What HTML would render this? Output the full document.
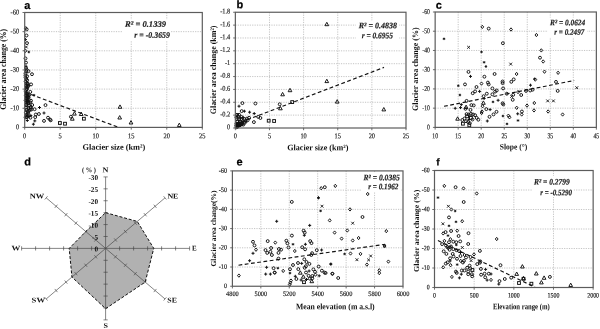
<!DOCTYPE html>
<html lang="en"><head><meta charset="utf-8"><title>Glacier area change figure</title>
<style>html,body{margin:0;padding:0;background:#fff}svg{display:block;will-change:transform}text{text-rendering:geometricPrecision}</style></head><body>
<svg width="600" height="329" viewBox="0 0 600 329">
<rect width="600" height="329" fill="#fff"/>
<g stroke="#b6b6b6" stroke-width="0.8" stroke-dasharray="1.2 1.2" fill="none">
<path d="M60.22 12.5V127.4"/>
<path d="M95.74 12.5V127.4"/>
<path d="M131.26 12.5V127.4"/>
<path d="M166.78 12.5V127.4"/>
<path d="M24.7 31.65H202.3"/>
<path d="M24.7 50.8H202.3"/>
<path d="M24.7 69.95H202.3"/>
<path d="M24.7 89.1H202.3"/>
<path d="M24.7 108.25H202.3"/>
</g>
<rect x="122" y="19.5" width="49" height="21.5" fill="#fff"/>
<g font-family='"Liberation Serif", serif' font-weight="bold" font-style="italic" font-size="8.4" fill="#1c1c1c" stroke="#1c1c1c" stroke-width="0.18">
<text x="125" y="26.8" textLength="41" lengthAdjust="spacingAndGlyphs" transform="rotate(0.04 125 26.8)">R² = 0.1339</text>
<text x="134.3" y="37.7" textLength="35.6" lengthAdjust="spacingAndGlyphs" transform="rotate(0.04 134.3 37.7)">r = -0.3659</text>
</g>
<path d="M25.2 92.3L119.2 127.6" stroke="#111" stroke-width="1.15" stroke-dasharray="3.8 2.5" fill="none"/>
<g fill="none" stroke="#111" stroke-width="0.95">
<path d="M25.8 26.52L27.2 28.2L25.8 29.88L24.4 28.2Z"/>
<circle cx="26.7" cy="29.4" r="1.45"/>
<circle cx="26.5" cy="35.5" r="1.45"/>
<path d="M24 39.6H27M25.5 38.1V41.1" stroke-width="1"/>
<circle cx="27" cy="43.1" r="1.45"/>
<path d="M24.9 45.6L27.7 48.4M27.7 45.6L24.9 48.4" stroke-width="0.9"/>
<path d="M25.5 49.12L26.9 50.8L25.5 52.48L24.1 50.8Z"/>
<path d="M27.5 52H30.1M28.8 50.7V53.3M27.99 51.19L29.61 52.81M29.61 51.19L27.99 52.81" stroke-width="0.75"/>
<circle cx="25.5" cy="58.4" r="1.45"/>
<circle cx="26" cy="62.6" r="1.45"/>
<path d="M24.5 66.3H27.5M26 64.8V67.8" stroke-width="1"/>
<circle cx="28.5" cy="71.2" r="1.45"/>
<circle cx="32" cy="74.2" r="1.45"/>
<circle cx="31.1" cy="84.4" r="1.45"/>
<circle cx="30.3" cy="91.9" r="1.45"/>
<path d="M32.7 95.2H35.3M34 93.9V96.5M33.19 94.39L34.81 96.01M34.81 94.39L33.19 96.01" stroke-width="0.75"/>
<circle cx="31" cy="100.7" r="1.45"/>
<circle cx="45.5" cy="105.1" r="1.45"/>
<circle cx="32.2" cy="105" r="1.45"/>
<circle cx="34.6" cy="109.2" r="1.45"/>
<path d="M38 107.5H41M39.5 106V109" stroke-width="1"/>
<circle cx="38.9" cy="114" r="1.45"/>
<circle cx="35.8" cy="114.5" r="1.45"/>
<path d="M42.5 113H45.5M44 111.5V114.5" stroke-width="1"/>
<circle cx="48" cy="117.7" r="1.45"/>
<circle cx="50" cy="119.5" r="1.45"/>
<circle cx="50.7" cy="120.3" r="1.45"/>
<circle cx="44" cy="120.9" r="1.45"/>
<circle cx="35.2" cy="117.1" r="1.45"/>
<circle cx="25.6" cy="117.3" r="1.45"/>
<path d="M25.8 120.5H28.8M27.3 119V122" stroke-width="1"/>
<path d="M33.3 120.9H36.3M34.8 119.4V122.4" stroke-width="1"/>
<path d="M31.9 124.2H34.9M33.4 122.7V125.7" stroke-width="1"/>
<rect x="58.5" y="121.6" width="2.8" height="2.8"/>
<rect x="63.6" y="122.3" width="2.8" height="2.8"/>
<circle cx="70.9" cy="116.7" r="1.45"/>
<path d="M74.4 111.7L76.25 115.1L72.55 115.1Z"/>
<path d="M72.3 116.8L74.15 120.2L70.45 120.2Z"/>
<path d="M81.2 112.1L83.05 115.5L79.35 115.5Z"/>
<rect x="82.5" y="117.3" width="2.8" height="2.8"/>
<path d="M120 104.9L121.85 108.3L118.15 108.3Z"/>
<path d="M119.7 115.6L121.55 119L117.85 119Z"/>
<path d="M131 120.6L132.85 124L129.15 124Z"/>
<path d="M179.3 123.1L181.15 126.5L177.45 126.5Z"/>
<circle cx="25.98" cy="68" r="1.45"/>
<circle cx="26.57" cy="69.74" r="1.45"/>
<circle cx="26.36" cy="71.4" r="1.45"/>
<circle cx="25.5" cy="73.33" r="1.45"/>
<circle cx="25.47" cy="75.39" r="1.45"/>
<circle cx="25.53" cy="77.38" r="1.45"/>
<circle cx="26.16" cy="79.06" r="1.45"/>
<circle cx="25.62" cy="81.4" r="1.45"/>
<circle cx="26.53" cy="83.2" r="1.45"/>
<circle cx="26.44" cy="85.66" r="1.45"/>
<circle cx="27.16" cy="87.61" r="1.45"/>
<circle cx="26.95" cy="89.26" r="1.45"/>
<circle cx="25.66" cy="91.12" r="1.45"/>
<circle cx="25.96" cy="92.82" r="1.45"/>
<circle cx="25.73" cy="95.16" r="1.45"/>
<circle cx="26.46" cy="96" r="1.45"/>
<circle cx="26.32" cy="98.37" r="1.45"/>
<circle cx="25.59" cy="100.44" r="1.45"/>
<circle cx="26.52" cy="102.64" r="1.45"/>
<circle cx="25.97" cy="105.07" r="1.45"/>
<circle cx="26.18" cy="107.65" r="1.45"/>
<circle cx="26.69" cy="109.95" r="1.45"/>
<circle cx="25.87" cy="112.65" r="1.45"/>
<circle cx="26.29" cy="115.23" r="1.45"/>
<circle cx="27.64" cy="111.51" r="1.45"/>
<circle cx="27.64" cy="96.83" r="1.45"/>
<circle cx="27.97" cy="97.65" r="1.45"/>
<circle cx="26.5" cy="117.09" r="1.45"/>
<circle cx="30.6" cy="107.75" r="1.45"/>
<circle cx="27.6" cy="102.16" r="1.45"/>
<circle cx="28.4" cy="107.92" r="1.45"/>
<path d="M27.5 116.67H30.5M29 115.17V118.17" stroke-width="1"/>
<circle cx="28.75" cy="95.56" r="1.45"/>
<circle cx="31.43" cy="109.53" r="1.45"/>
<path d="M26.2 100.83H29.2M27.7 99.33V102.33" stroke-width="1"/>
<circle cx="30.32" cy="102.33" r="1.45"/>
<circle cx="26.48" cy="98.03" r="1.45"/>
<path d="M25.71 99.24H28.71M27.21 97.74V100.74" stroke-width="1"/>
<circle cx="27.68" cy="99.94" r="1.45"/>
<circle cx="27.71" cy="95.93" r="1.45"/>
<circle cx="26.6" cy="100.67" r="1.45"/>
<circle cx="27.7" cy="114.74" r="1.45"/>
<circle cx="30.41" cy="117.68" r="1.45"/>
<circle cx="26.96" cy="116.99" r="1.45"/>
<circle cx="28.65" cy="97.63" r="1.45"/>
<circle cx="28.94" cy="105.64" r="1.45"/>
<circle cx="26.64" cy="100.77" r="1.45"/>
<circle cx="28.64" cy="102.86" r="1.45"/>
<circle cx="28.88" cy="110.57" r="1.45"/>
<circle cx="30.06" cy="109.72" r="1.45"/>
<path d="M29.34 115.59H32.34M30.84 114.09V117.09" stroke-width="1"/>
<circle cx="28.32" cy="113.15" r="1.45"/>
<circle cx="28.28" cy="103.46" r="1.45"/>
<circle cx="26.25" cy="95.49" r="1.45"/>
<circle cx="26.53" cy="104.58" r="1.45"/>
<circle cx="26" cy="95.26" r="1.45"/>
<circle cx="30.88" cy="106.88" r="1.45"/>
<circle cx="29.19" cy="94.61" r="1.45"/>
<circle cx="26.9" cy="86.69" r="1.45"/>
<circle cx="28.29" cy="86.05" r="1.45"/>
<circle cx="27.14" cy="76.31" r="1.45"/>
<circle cx="27.17" cy="93.56" r="1.45"/>
<circle cx="27.15" cy="80.24" r="1.45"/>
<circle cx="26.35" cy="88.99" r="1.45"/>
<circle cx="27.78" cy="83.57" r="1.45"/>
<circle cx="27.66" cy="84.33" r="1.45"/>
</g>
<g stroke="#5c5c5c" stroke-width="1.2" fill="none">
<rect x="24.7" y="12.5" width="177.6" height="114.9"/>
<path d="M24.7 127.4v2.2M60.22 127.4v2.2M95.74 127.4v2.2M131.26 127.4v2.2M166.78 127.4v2.2M202.3 127.4v2.2M24.7 12.5h-2.2M24.7 31.65h-2.2M24.7 50.8h-2.2M24.7 69.95h-2.2M24.7 89.1h-2.2M24.7 108.25h-2.2M24.7 127.4h-2.2" stroke-width="0.9"/>
</g>
<g font-family='"Liberation Serif", serif' font-size="7.3" fill="#222" stroke="#222" stroke-width="0.18">
<text x="23.09" y="138.2" textLength="3.21" lengthAdjust="spacingAndGlyphs" transform="rotate(0.04 23.09 138.2)">0</text>
<text x="58.61" y="138.2" textLength="3.21" lengthAdjust="spacingAndGlyphs" transform="rotate(0.04 58.61 138.2)">5</text>
<text x="92.53" y="138.2" textLength="6.42" lengthAdjust="spacingAndGlyphs" transform="rotate(0.04 92.53 138.2)">10</text>
<text x="128.05" y="138.2" textLength="6.42" lengthAdjust="spacingAndGlyphs" transform="rotate(0.04 128.05 138.2)">15</text>
<text x="163.57" y="138.2" textLength="6.42" lengthAdjust="spacingAndGlyphs" transform="rotate(0.04 163.57 138.2)">20</text>
<text x="199.09" y="138.2" textLength="6.42" lengthAdjust="spacingAndGlyphs" transform="rotate(0.04 199.09 138.2)">25</text>
<text x="10.54" y="14.47" textLength="8.56" lengthAdjust="spacingAndGlyphs" transform="rotate(0.04 10.54 14.47)">-60</text>
<text x="10.54" y="33.62" textLength="8.56" lengthAdjust="spacingAndGlyphs" transform="rotate(0.04 10.54 33.62)">-50</text>
<text x="10.54" y="52.77" textLength="8.56" lengthAdjust="spacingAndGlyphs" transform="rotate(0.04 10.54 52.77)">-40</text>
<text x="10.54" y="71.92" textLength="8.56" lengthAdjust="spacingAndGlyphs" transform="rotate(0.04 10.54 71.92)">-30</text>
<text x="10.54" y="91.07" textLength="8.56" lengthAdjust="spacingAndGlyphs" transform="rotate(0.04 10.54 91.07)">-20</text>
<text x="10.54" y="110.22" textLength="8.56" lengthAdjust="spacingAndGlyphs" transform="rotate(0.04 10.54 110.22)">-10</text>
<text x="15.89" y="129.37" textLength="3.21" lengthAdjust="spacingAndGlyphs" transform="rotate(0.04 15.89 129.37)">0</text>
</g>
<text x="82.5" y="149.7" font-family='"Liberation Serif", serif' font-weight="bold" font-size="8.3" textLength="62.8" lengthAdjust="spacingAndGlyphs" fill="#111" transform="rotate(0.04 82.5 149.7)">Glacier size (km²)</text>
<text transform="translate(6.1 109.8) rotate(-90)" font-family='"Liberation Serif", serif' font-weight="bold" font-size="8.8" textLength="81" lengthAdjust="spacingAndGlyphs" fill="#111">Glacier area change (%)</text>
<text x="24.3" y="8.9" font-family='"Liberation Sans", sans-serif' font-weight="bold" font-size="11" fill="#000" stroke="#000" stroke-width="0.2" transform="rotate(0.04 24.3 8.9)">a</text>
<g stroke="#b6b6b6" stroke-width="0.8" stroke-dasharray="1.2 1.2" fill="none">
<path d="M269.48 12.25V128"/>
<path d="M303.61 12.25V128"/>
<path d="M337.74 12.25V128"/>
<path d="M371.87 12.25V128"/>
<path d="M235.35 25.11H406"/>
<path d="M235.35 37.97H406"/>
<path d="M235.35 50.83H406"/>
<path d="M235.35 63.69H406"/>
<path d="M235.35 76.56H406"/>
<path d="M235.35 89.42H406"/>
<path d="M235.35 102.28H406"/>
<path d="M235.35 115.14H406"/>
</g>
<rect x="356" y="20.5" width="43" height="20.5" fill="#fff"/>
<g font-family='"Liberation Serif", serif' font-weight="bold" font-style="italic" font-size="8.4" fill="#1c1c1c" stroke="#1c1c1c" stroke-width="0.18">
<text x="358.7" y="28.2" textLength="38.3" lengthAdjust="spacingAndGlyphs" transform="rotate(0.04 358.7 28.2)">R² = 0.4838</text>
<text x="361.7" y="38.2" textLength="31.3" lengthAdjust="spacingAndGlyphs" transform="rotate(0.04 361.7 38.2)">r = 0.6955</text>
</g>
<path d="M235.4 124.3L384 67.4" stroke="#111" stroke-width="1.15" stroke-dasharray="3.8 2.5" fill="none"/>
<g fill="none" stroke="#111" stroke-width="0.95">
<path d="M326.8 22.3L328.65 25.7L324.95 25.7Z"/>
<path d="M326.8 79.2L328.65 82.6L324.95 82.6Z"/>
<path d="M337.2 99.7L339.05 103.1L335.35 103.1Z"/>
<path d="M383.8 107.5L385.65 110.9L381.95 110.9Z"/>
<path d="M290 88.3L291.85 91.7L288.15 91.7Z"/>
<path d="M282.6 92.4L284.45 95.8L280.75 95.8Z"/>
<path d="M280.4 106.4L282.25 109.8L278.55 109.8Z"/>
<circle cx="242.4" cy="103.1" r="1.45"/>
<circle cx="255.4" cy="103.5" r="1.45"/>
<circle cx="279.7" cy="104.3" r="1.45"/>
<circle cx="241.7" cy="111.1" r="1.45"/>
<circle cx="237" cy="115" r="1.45"/>
<circle cx="258.2" cy="116.9" r="1.45"/>
<circle cx="260.4" cy="118" r="1.45"/>
<circle cx="253.9" cy="122.1" r="1.45"/>
<path d="M237.5 106.2H240.5M239 104.7V107.7" stroke-width="1"/>
<path d="M242.9 111.2H245.9M244.4 109.7V112.7" stroke-width="1"/>
<path d="M248.1 112.2H251.1M249.6 110.7V113.7" stroke-width="1"/>
<path d="M252.7 113.5H255.7M254.2 112V115" stroke-width="1"/>
<rect x="267.3" y="119.3" width="2.8" height="2.8"/>
<rect x="272.7" y="119.6" width="2.8" height="2.8"/>
<rect x="290.8" y="100.7" width="2.8" height="2.8"/>
<circle cx="236.8" cy="115" r="1.45"/>
<circle cx="236.4" cy="117.3" r="1.45"/>
<circle cx="239.1" cy="114.8" r="1.45"/>
<circle cx="241.4" cy="116.9" r="1.45"/>
<circle cx="238.2" cy="116.4" r="1.45"/>
<circle cx="236.8" cy="119.1" r="1.45"/>
<circle cx="239.1" cy="119.3" r="1.45"/>
<circle cx="241.4" cy="119" r="1.45"/>
<circle cx="244.6" cy="119.2" r="1.45"/>
<circle cx="246.9" cy="118.6" r="1.45"/>
<circle cx="249.1" cy="117.8" r="1.45"/>
<circle cx="237.3" cy="121.4" r="1.45"/>
<circle cx="240" cy="121.6" r="1.45"/>
<circle cx="242.8" cy="121.2" r="1.45"/>
<circle cx="245.5" cy="120.8" r="1.45"/>
<circle cx="247.6" cy="120.3" r="1.45"/>
<circle cx="236.4" cy="123.7" r="1.45"/>
<circle cx="239.1" cy="123.6" r="1.45"/>
<circle cx="241.8" cy="123.3" r="1.45"/>
<circle cx="244.6" cy="122.8" r="1.45"/>
<circle cx="243.4" cy="124.6" r="1.45"/>
<path d="M241.7 117.4H244.7M243.2 115.9V118.9" stroke-width="1"/>
<path d="M244.5 121.8H247.5M246 120.3V123.3" stroke-width="1"/>
<path d="M239.1 118H242.1M240.6 116.5V119.5" stroke-width="1"/>
<path d="M236.9 122.6H239.9M238.4 121.1V124.1" stroke-width="1"/>
<circle cx="238.96" cy="124.29" r="1.45"/>
<circle cx="238.97" cy="124.85" r="1.45"/>
<circle cx="237.43" cy="125.68" r="1.45"/>
<circle cx="240.27" cy="124.32" r="1.45"/>
<circle cx="237.27" cy="125.86" r="1.45"/>
<circle cx="237.21" cy="125.53" r="1.45"/>
<circle cx="240.14" cy="125.02" r="1.45"/>
<circle cx="236.52" cy="127.24" r="1.45"/>
<circle cx="237.14" cy="126.74" r="1.45"/>
<circle cx="238.88" cy="124.4" r="1.45"/>
<circle cx="239.42" cy="124.84" r="1.45"/>
<circle cx="239.99" cy="124.78" r="1.45"/>
<circle cx="242.48" cy="122.7" r="1.45"/>
<circle cx="240.07" cy="124.72" r="1.45"/>
<circle cx="237.47" cy="125.1" r="1.45"/>
<circle cx="239.02" cy="125.42" r="1.45"/>
<circle cx="242.09" cy="124.33" r="1.45"/>
<circle cx="238.05" cy="125.88" r="1.45"/>
<circle cx="241.67" cy="124.13" r="1.45"/>
<circle cx="240.2" cy="124.9" r="1.45"/>
<circle cx="236.68" cy="125.39" r="1.45"/>
<circle cx="240.11" cy="124.53" r="1.45"/>
<circle cx="236.43" cy="125.64" r="1.45"/>
<circle cx="237.45" cy="126.03" r="1.45"/>
<circle cx="237.73" cy="126.55" r="1.45"/>
<circle cx="239.48" cy="124.58" r="1.45"/>
<circle cx="237.29" cy="124.97" r="1.45"/>
<circle cx="240.58" cy="123.24" r="1.45"/>
<circle cx="237.43" cy="125.19" r="1.45"/>
<circle cx="239.45" cy="123.57" r="1.45"/>
</g>
<g stroke="#5c5c5c" stroke-width="1.2" fill="none">
<rect x="235.35" y="12.25" width="170.65" height="115.75"/>
<path d="M235.35 128v2.2M269.48 128v2.2M303.61 128v2.2M337.74 128v2.2M371.87 128v2.2M406 128v2.2M235.35 12.25h-2.2M235.35 25.11h-2.2M235.35 37.97h-2.2M235.35 50.83h-2.2M235.35 63.69h-2.2M235.35 76.56h-2.2M235.35 89.42h-2.2M235.35 102.28h-2.2M235.35 115.14h-2.2M235.35 128h-2.2" stroke-width="0.9"/>
</g>
<g font-family='"Liberation Serif", serif' font-size="7.3" fill="#222" stroke="#222" stroke-width="0.18">
<text x="233.76" y="138.3" textLength="3.18" lengthAdjust="spacingAndGlyphs" transform="rotate(0.04 233.76 138.3)">0</text>
<text x="267.89" y="138.3" textLength="3.18" lengthAdjust="spacingAndGlyphs" transform="rotate(0.04 267.89 138.3)">5</text>
<text x="300.43" y="138.3" textLength="6.35" lengthAdjust="spacingAndGlyphs" transform="rotate(0.04 300.43 138.3)">10</text>
<text x="334.56" y="138.3" textLength="6.35" lengthAdjust="spacingAndGlyphs" transform="rotate(0.04 334.56 138.3)">15</text>
<text x="368.69" y="138.3" textLength="6.35" lengthAdjust="spacingAndGlyphs" transform="rotate(0.04 368.69 138.3)">20</text>
<text x="402.82" y="138.3" textLength="6.35" lengthAdjust="spacingAndGlyphs" transform="rotate(0.04 402.82 138.3)">25</text>
<text x="220.25" y="13.52" textLength="10.05" lengthAdjust="spacingAndGlyphs" transform="rotate(0.04 220.25 13.52)">-1.8</text>
<text x="220.25" y="26.38" textLength="10.05" lengthAdjust="spacingAndGlyphs" transform="rotate(0.04 220.25 26.38)">-1.6</text>
<text x="220.25" y="39.24" textLength="10.05" lengthAdjust="spacingAndGlyphs" transform="rotate(0.04 220.25 39.24)">-1.4</text>
<text x="220.25" y="52.1" textLength="10.05" lengthAdjust="spacingAndGlyphs" transform="rotate(0.04 220.25 52.1)">-1.2</text>
<text x="225.01" y="64.96" textLength="5.29" lengthAdjust="spacingAndGlyphs" transform="rotate(0.04 225.01 64.96)">-1</text>
<text x="220.25" y="77.82" textLength="10.05" lengthAdjust="spacingAndGlyphs" transform="rotate(0.04 220.25 77.82)">-0.8</text>
<text x="220.25" y="90.68" textLength="10.05" lengthAdjust="spacingAndGlyphs" transform="rotate(0.04 220.25 90.68)">-0.6</text>
<text x="220.25" y="103.55" textLength="10.05" lengthAdjust="spacingAndGlyphs" transform="rotate(0.04 220.25 103.55)">-0.4</text>
<text x="220.25" y="116.41" textLength="10.05" lengthAdjust="spacingAndGlyphs" transform="rotate(0.04 220.25 116.41)">-0.2</text>
<text x="227.12" y="129.27" textLength="3.18" lengthAdjust="spacingAndGlyphs" transform="rotate(0.04 227.12 129.27)">0</text>
</g>
<text x="287.2" y="150.2" font-family='"Liberation Serif", serif' font-weight="bold" font-size="8.3" textLength="61.2" lengthAdjust="spacingAndGlyphs" fill="#111" transform="rotate(0.04 287.2 150.2)">Glacier size (km²)</text>
<text transform="translate(215.5 114.3) rotate(-90)" font-family='"Liberation Serif", serif' font-weight="bold" font-size="8.3" textLength="88.8" lengthAdjust="spacingAndGlyphs" fill="#111">Glacier area change (km²)</text>
<text x="236.4" y="8.3" font-family='"Liberation Sans", sans-serif' font-weight="bold" font-size="11" fill="#000" stroke="#000" stroke-width="0.2" transform="rotate(0.04 236.4 8.3)">b</text>
<g stroke="#b6b6b6" stroke-width="0.8" stroke-dasharray="1.2 1.2" fill="none">
<path d="M458.18 12V127.4"/>
<path d="M481.21 12V127.4"/>
<path d="M504.24 12V127.4"/>
<path d="M527.26 12V127.4"/>
<path d="M550.29 12V127.4"/>
<path d="M573.32 12V127.4"/>
<path d="M435.15 31.23H596.35"/>
<path d="M435.15 50.47H596.35"/>
<path d="M435.15 69.7H596.35"/>
<path d="M435.15 88.93H596.35"/>
<path d="M435.15 108.17H596.35"/>
</g>
<rect x="548" y="17.5" width="39" height="20" fill="#fff"/>
<g font-family='"Liberation Serif", serif' font-weight="bold" font-style="italic" font-size="8.4" fill="#1c1c1c" stroke="#1c1c1c" stroke-width="0.18">
<text x="550" y="25.2" textLength="35.2" lengthAdjust="spacingAndGlyphs" transform="rotate(0.04 550 25.2)">R² = 0.0624</text>
<text x="554.3" y="34.7" textLength="30" lengthAdjust="spacingAndGlyphs" transform="rotate(0.04 554.3 34.7)">r = 0.2497</text>
</g>
<path d="M444 106.3L574.2 80.5" stroke="#111" stroke-width="1.15" stroke-dasharray="3.8 2.5" fill="none"/>
<g fill="none" stroke="#111" stroke-width="0.95">
<path d="M442.7 38.8H445.3M444 37.5V40.1M443.19 37.99L444.81 39.61M444.81 37.99L443.19 39.61" stroke-width="0.75"/>
<path d="M467.2 45.9L470 48.7M470 45.9L467.2 48.7" stroke-width="0.9"/>
<path d="M482.3 25.22L483.7 26.9L482.3 28.58L480.9 26.9Z"/>
<circle cx="488.7" cy="28.6" r="1.45"/>
<path d="M511 27.82L512.4 29.5L511 31.18L509.6 29.5Z"/>
<circle cx="502.9" cy="43.2" r="1.45"/>
<path d="M480.2 51.9H482.8M481.5 50.6V53.2M480.69 51.09L482.31 52.71M482.31 51.09L480.69 52.71" stroke-width="0.75"/>
<path d="M482.8 62.3H485.4M484.1 61V63.6M483.29 61.49L484.91 63.11M484.91 61.49L483.29 63.11" stroke-width="0.75"/>
<path d="M484.6 66.5H487.2M485.9 65.2V67.8M485.09 65.69L486.71 67.31M486.71 65.69L485.09 67.31" stroke-width="0.75"/>
<path d="M509.3 62.7L512.1 65.5M512.1 62.7L509.3 65.5" stroke-width="0.9"/>
<path d="M536.4 33.32L537.8 35L536.4 36.68L535 35Z"/>
<path d="M541.3 48.72L542.7 50.4L541.3 52.08L539.9 50.4Z"/>
<circle cx="540" cy="57.7" r="1.45"/>
<path d="M543.2 59.82L544.6 61.5L543.2 63.18L541.8 61.5Z"/>
<circle cx="468.5" cy="71.9" r="1.45"/>
<path d="M469 76.4H472M470.5 74.9V77.9" stroke-width="1"/>
<circle cx="484.4" cy="76.7" r="1.45"/>
<circle cx="465" cy="84.4" r="1.45"/>
<path d="M457 85.7H459.6M458.3 84.4V87M457.49 84.89L459.11 86.51M459.11 84.89L457.49 86.51" stroke-width="0.75"/>
<path d="M481.5 81.92L482.9 83.6L481.5 85.28L480.1 83.6Z"/>
<circle cx="487.9" cy="82.6" r="1.45"/>
<circle cx="488.7" cy="84.4" r="1.45"/>
<circle cx="476.5" cy="87" r="1.45"/>
<circle cx="475.1" cy="91.4" r="1.45"/>
<circle cx="472.7" cy="93.2" r="1.45"/>
<path d="M478.1 91.4H481.1M479.6 89.9V92.9" stroke-width="1"/>
<path d="M458.6 95H461.2M459.9 93.7V96.3M459.09 94.19L460.71 95.81M460.71 94.19L459.09 95.81" stroke-width="0.75"/>
<circle cx="486.8" cy="93.7" r="1.45"/>
<circle cx="483.6" cy="96.2" r="1.45"/>
<path d="M482.6 98.5H485.6M484.1 97V100" stroke-width="1"/>
<circle cx="466.6" cy="100.9" r="1.45"/>
<path d="M459.8 104.6H462.8M461.3 103.1V106.1" stroke-width="1"/>
<circle cx="471.4" cy="105.1" r="1.45"/>
<circle cx="473.7" cy="105.4" r="1.45"/>
<path d="M453.7 108.3H456.7M455.2 106.8V109.8" stroke-width="1"/>
<path d="M459 107.6H462M460.5 106.1V109.1" stroke-width="1"/>
<path d="M466.1 105.1L467.95 108.5L464.25 108.5Z"/>
<circle cx="465.5" cy="108.8" r="1.45"/>
<circle cx="470.5" cy="109.9" r="1.45"/>
<path d="M483.4 100.9L485.25 104.3L481.55 104.3Z"/>
<path d="M482.6 104.52L484 106.2L482.6 107.88L481.2 106.2Z"/>
<circle cx="486.3" cy="109.1" r="1.45"/>
<path d="M482 109.82L483.4 111.5L482 113.18L480.6 111.5Z"/>
<path d="M481.6 111.32L483 113L481.6 114.68L480.2 113Z"/>
<circle cx="466.6" cy="114.1" r="1.45"/>
<circle cx="468.7" cy="114.5" r="1.45"/>
<circle cx="470.9" cy="113.9" r="1.45"/>
<circle cx="473" cy="114.5" r="1.45"/>
<circle cx="475.1" cy="115.2" r="1.45"/>
<rect x="465.7" y="114.9" width="2.8" height="2.8"/>
<rect x="469.5" y="116.5" width="2.8" height="2.8"/>
<circle cx="476.7" cy="117.9" r="1.45"/>
<circle cx="478.3" cy="119.7" r="1.45"/>
<path d="M457.6 116.8L459.45 120.2L455.75 120.2Z"/>
<circle cx="462.3" cy="120" r="1.45"/>
<rect x="461.5" y="122.3" width="2.8" height="2.8"/>
<circle cx="468.2" cy="122.1" r="1.45"/>
<circle cx="469.8" cy="123.2" r="1.45"/>
<rect x="467.9" y="123.9" width="2.8" height="2.8"/>
<circle cx="489.5" cy="116.8" r="1.45"/>
<path d="M485.8 121H488.8M487.3 119.5V122.5" stroke-width="1"/>
<circle cx="464.5" cy="118.5" r="1.45"/>
<circle cx="472.5" cy="119.5" r="1.45"/>
<path d="M467.5 119.5H470.5M469 118V121" stroke-width="1"/>
<circle cx="466" cy="121.2" r="1.45"/>
<circle cx="494.6" cy="74" r="1.45"/>
<path d="M516.6 72.32L518 74L516.6 75.68L515.2 74Z"/>
<circle cx="513.7" cy="79.4" r="1.45"/>
<circle cx="511.3" cy="81.8" r="1.45"/>
<circle cx="502.6" cy="81.5" r="1.45"/>
<circle cx="502.6" cy="83.1" r="1.45"/>
<circle cx="492.4" cy="88.4" r="1.45"/>
<circle cx="503.1" cy="88.4" r="1.45"/>
<circle cx="496.7" cy="90.5" r="1.45"/>
<circle cx="495.1" cy="91.6" r="1.45"/>
<circle cx="492.4" cy="94.3" r="1.45"/>
<circle cx="506.8" cy="93.7" r="1.45"/>
<path d="M518 90.42L519.4 92.1L518 93.78L516.6 92.1Z"/>
<circle cx="521.2" cy="95" r="1.45"/>
<path d="M510.2 95L513 97.8M513 95L510.2 97.8" stroke-width="0.9"/>
<circle cx="513.2" cy="94.8" r="1.45"/>
<circle cx="526" cy="90.9" r="1.45"/>
<circle cx="530.2" cy="90.5" r="1.45"/>
<circle cx="532.6" cy="89.7" r="1.45"/>
<path d="M529 85.2H532M530.5 83.7V86.7" stroke-width="1"/>
<path d="M533.2 78.8H535.8M534.5 77.5V80.1M533.69 77.99L535.31 79.61M535.31 77.99L533.69 79.61" stroke-width="0.75"/>
<circle cx="512.7" cy="99.8" r="1.45"/>
<path d="M491.7 101.9H494.3M493 100.6V103.2M492.19 101.09L493.81 102.71M493.81 101.09L492.19 102.71" stroke-width="0.75"/>
<path d="M496.6 100.3H499.6M498.1 98.8V101.8" stroke-width="1"/>
<circle cx="502.6" cy="103.3" r="1.45"/>
<circle cx="503.3" cy="104.4" r="1.45"/>
<path d="M527 103.92L528.4 105.6L527 107.28L525.6 105.6Z"/>
<path d="M516.7 106.12L518.1 107.8L516.7 109.48L515.3 107.8Z"/>
<path d="M488.6 109.6H491.6M490.1 108.1V111.1" stroke-width="1"/>
<circle cx="496.5" cy="111.8" r="1.45"/>
<circle cx="493.5" cy="114.4" r="1.45"/>
<circle cx="521.9" cy="111.5" r="1.45"/>
<path d="M516.2 113.8H519.2M517.7 112.3V115.3" stroke-width="1"/>
<path d="M521.7 112.82L523.1 114.5L521.7 116.18L520.3 114.5Z"/>
<path d="M501.6 116H504.2M502.9 114.7V117.3M502.09 115.19L503.71 116.81M503.71 115.19L502.09 116.81" stroke-width="0.75"/>
<path d="M508.4 114.02L509.8 115.7L508.4 117.38L507 115.7Z"/>
<path d="M509.5 115.62L510.9 117.3L509.5 118.98L508.1 117.3Z"/>
<path d="M516.7 120.5H519.3M518 119.2V121.8M517.19 119.69L518.81 121.31M518.81 119.69L517.19 121.31" stroke-width="0.75"/>
<path d="M505.7 123.9H508.3M507 122.6V125.2M506.19 123.09L507.81 124.71M507.81 123.09L506.19 124.71" stroke-width="0.75"/>
<path d="M534 108.72L535.4 110.4L534 112.08L532.6 110.4Z"/>
<path d="M544.5 70.02L545.9 71.7L544.5 73.38L543.1 71.7Z"/>
<path d="M558.1 71.12L559.5 72.8L558.1 74.48L556.7 72.8Z"/>
<path d="M535.3 77.92L536.7 79.6L535.3 81.28L533.9 79.6Z"/>
<circle cx="556" cy="81.9" r="1.45"/>
<path d="M575.4 86.3L578.2 89.1M578.2 86.3L575.4 89.1" stroke-width="0.9"/>
<circle cx="557.7" cy="90.9" r="1.45"/>
<path d="M546.3 99.5L549.1 102.3M549.1 99.5L546.3 102.3" stroke-width="0.9"/>
<path d="M552 99.5L554.8 102.3M554.8 99.5L552 102.3" stroke-width="0.9"/>
<path d="M534.3 101.32L535.7 103L534.3 104.68L532.9 103Z"/>
<path d="M548.1 109.82L549.5 111.5L548.1 113.18L546.7 111.5Z"/>
<path d="M562.6 112.82L564 114.5L562.6 116.18L561.2 114.5Z"/>
</g>
<g stroke="#5c5c5c" stroke-width="1.2" fill="none">
<rect x="435.15" y="12" width="161.2" height="115.4"/>
<path d="M435.15 127.4v2.2M458.18 127.4v2.2M481.21 127.4v2.2M504.24 127.4v2.2M527.26 127.4v2.2M550.29 127.4v2.2M573.32 127.4v2.2M596.35 127.4v2.2M435.15 12h-2.2M435.15 31.23h-2.2M435.15 50.47h-2.2M435.15 69.7h-2.2M435.15 88.93h-2.2M435.15 108.17h-2.2M435.15 127.4h-2.2" stroke-width="0.9"/>
</g>
<g font-family='"Liberation Serif", serif' font-size="7.4" fill="#222" stroke="#222" stroke-width="0.18">
<text x="432.3" y="138.2" textLength="5.7" lengthAdjust="spacingAndGlyphs" transform="rotate(0.04 432.3 138.2)">10</text>
<text x="455.33" y="138.2" textLength="5.7" lengthAdjust="spacingAndGlyphs" transform="rotate(0.04 455.33 138.2)">15</text>
<text x="478.36" y="138.2" textLength="5.7" lengthAdjust="spacingAndGlyphs" transform="rotate(0.04 478.36 138.2)">20</text>
<text x="501.39" y="138.2" textLength="5.7" lengthAdjust="spacingAndGlyphs" transform="rotate(0.04 501.39 138.2)">25</text>
<text x="524.42" y="138.2" textLength="5.7" lengthAdjust="spacingAndGlyphs" transform="rotate(0.04 524.42 138.2)">30</text>
<text x="547.44" y="138.2" textLength="5.7" lengthAdjust="spacingAndGlyphs" transform="rotate(0.04 547.44 138.2)">35</text>
<text x="570.47" y="138.2" textLength="5.7" lengthAdjust="spacingAndGlyphs" transform="rotate(0.04 570.47 138.2)">40</text>
<text x="593.5" y="138.2" textLength="5.7" lengthAdjust="spacingAndGlyphs" transform="rotate(0.04 593.5 138.2)">45</text>
<text x="422.3" y="14" textLength="7.6" lengthAdjust="spacingAndGlyphs" transform="rotate(0.04 422.3 14)">-60</text>
<text x="422.3" y="33.23" textLength="7.6" lengthAdjust="spacingAndGlyphs" transform="rotate(0.04 422.3 33.23)">-50</text>
<text x="422.3" y="52.47" textLength="7.6" lengthAdjust="spacingAndGlyphs" transform="rotate(0.04 422.3 52.47)">-40</text>
<text x="422.3" y="71.7" textLength="7.6" lengthAdjust="spacingAndGlyphs" transform="rotate(0.04 422.3 71.7)">-30</text>
<text x="422.3" y="90.93" textLength="7.6" lengthAdjust="spacingAndGlyphs" transform="rotate(0.04 422.3 90.93)">-20</text>
<text x="422.3" y="110.17" textLength="7.6" lengthAdjust="spacingAndGlyphs" transform="rotate(0.04 422.3 110.17)">-10</text>
<text x="427.05" y="129.4" textLength="2.85" lengthAdjust="spacingAndGlyphs" transform="rotate(0.04 427.05 129.4)">0</text>
</g>
<text x="499.7" y="149.4" font-family='"Liberation Serif", serif' font-weight="bold" font-size="8.3" textLength="27.5" lengthAdjust="spacingAndGlyphs" fill="#111" transform="rotate(0.04 499.7 149.4)">Slope (°)</text>
<text transform="translate(418.4 111) rotate(-90)" font-family='"Liberation Serif", serif' font-weight="bold" font-size="8.3" textLength="83.6" lengthAdjust="spacingAndGlyphs" fill="#111">Glacier area change (%)</text>
<text x="435.8" y="8.7" font-family='"Liberation Sans", sans-serif' font-weight="bold" font-size="11" fill="#000" stroke="#000" stroke-width="0.2" transform="rotate(0.04 435.8 8.7)">c</text>
<g stroke="#b6b6b6" stroke-width="0.8" stroke-dasharray="1.2 1.2" fill="none">
<path d="M260.83 170.9V286.25"/>
<path d="M289.27 170.9V286.25"/>
<path d="M317.7 170.9V286.25"/>
<path d="M346.13 170.9V286.25"/>
<path d="M374.57 170.9V286.25"/>
<path d="M232.4 190.12H403"/>
<path d="M232.4 209.35H403"/>
<path d="M232.4 228.57H403"/>
<path d="M232.4 247.8H403"/>
<path d="M232.4 267.02H403"/>
</g>
<rect x="361.5" y="172.5" width="39.5" height="19.5" fill="#fff"/>
<g font-family='"Liberation Serif", serif' font-weight="bold" font-style="italic" font-size="8.4" fill="#1c1c1c" stroke="#1c1c1c" stroke-width="0.18">
<text x="363.6" y="180.3" textLength="36.1" lengthAdjust="spacingAndGlyphs" transform="rotate(0.04 363.6 180.3)">R² = 0.0385</text>
<text x="368.3" y="189.2" textLength="30.1" lengthAdjust="spacingAndGlyphs" transform="rotate(0.04 368.3 189.2)">r = 0.1962</text>
</g>
<path d="M238.5 265.2L385 244.3" stroke="#111" stroke-width="1.15" stroke-dasharray="3.8 2.5" fill="none"/>
<g fill="none" stroke="#111" stroke-width="0.95">
<circle cx="291.8" cy="201.9" r="1.45"/>
<path d="M275.2 221.3H278.2M276.7 219.8V222.8" stroke-width="1"/>
<path d="M317 197.8H320M318.5 196.3V199.3" stroke-width="1"/>
<path d="M308.2 225.4H311.2M309.7 223.9V226.9" stroke-width="1"/>
<path d="M321.2 186.52L322.6 188.2L321.2 189.88L319.8 188.2Z"/>
<circle cx="324.8" cy="187.2" r="1.45"/>
<path d="M335.3 184.22L336.7 185.9L335.3 187.58L333.9 185.9Z"/>
<path d="M317.1 197.8H319.7M318.4 196.5V199.1M317.59 196.99L319.21 198.61M319.21 196.99L317.59 198.61" stroke-width="0.75"/>
<path d="M320.6 204.8L323.4 207.6M323.4 204.8L320.6 207.6" stroke-width="0.9"/>
<path d="M319.3 210.9H321.9M320.6 209.6V212.2M319.79 210.09L321.41 211.71M321.41 210.09L319.79 211.71" stroke-width="0.75"/>
<path d="M367.7 192.32L369.1 194L367.7 195.68L366.3 194Z"/>
<path d="M350 207.72L351.4 209.4L350 211.08L348.6 209.4Z"/>
<circle cx="362.5" cy="217" r="1.45"/>
<path d="M329.7 218.72L331.1 220.4L329.7 222.08L328.3 220.4Z"/>
<path d="M351.3 221.8L354.1 224.6M354.1 221.8L351.3 224.6" stroke-width="0.9"/>
<circle cx="253" cy="241.8" r="1.45"/>
<circle cx="254.5" cy="245.4" r="1.45"/>
<path d="M256 248.02L257.4 249.7L256 251.38L254.6 249.7Z"/>
<path d="M251.5 253.3H254.5M253 251.8V254.8" stroke-width="1"/>
<path d="M248.1 260.7H251.1M249.6 259.2V262.2" stroke-width="1"/>
<path d="M238.9 273.92L240.3 275.6L238.9 277.28L237.5 275.6Z"/>
<circle cx="267.7" cy="241.1" r="1.45"/>
<path d="M275.3 240.92L276.7 242.6L275.3 244.28L273.9 242.6Z"/>
<circle cx="286.4" cy="240.7" r="1.45"/>
<circle cx="287.4" cy="243.3" r="1.45"/>
<circle cx="288.5" cy="247.5" r="1.45"/>
<circle cx="271.1" cy="248" r="1.45"/>
<circle cx="265.5" cy="250.1" r="1.45"/>
<circle cx="267.2" cy="252.9" r="1.45"/>
<circle cx="270.4" cy="251.8" r="1.45"/>
<circle cx="271.9" cy="255" r="1.45"/>
<circle cx="278.9" cy="249" r="1.45"/>
<circle cx="281.1" cy="249.7" r="1.45"/>
<circle cx="278.5" cy="252.9" r="1.45"/>
<circle cx="278.5" cy="258.6" r="1.45"/>
<path d="M265.1 267.3H268.1M266.6 265.8V268.8" stroke-width="1"/>
<circle cx="273.6" cy="268.2" r="1.45"/>
<path d="M276.6 268.2H279.2M277.9 266.9V269.5M277.09 267.39L278.71 269.01M278.71 267.39L277.09 269.01" stroke-width="0.75"/>
<path d="M264.2 274.1H267.2M265.7 272.6V275.6" stroke-width="1"/>
<path d="M268.9 274.1H271.9M270.4 272.6V275.6" stroke-width="1"/>
<circle cx="274.7" cy="272.6" r="1.45"/>
<path d="M274.7 270.92L276.1 272.6L274.7 274.28L273.3 272.6Z"/>
<path d="M283.2 269.22L284.6 270.9L283.2 272.58L281.8 270.9Z"/>
<circle cx="303.6" cy="230.7" r="1.45"/>
<circle cx="304.7" cy="232.6" r="1.45"/>
<path d="M302.8 235.3H305.8M304.3 233.8V236.8" stroke-width="1"/>
<circle cx="291.9" cy="235.6" r="1.45"/>
<path d="M291.7 244.3H294.3M293 243V245.6M292.19 243.49L293.81 245.11M293.81 243.49L292.19 245.11" stroke-width="0.75"/>
<circle cx="310.2" cy="241.1" r="1.45"/>
<circle cx="311.5" cy="243.1" r="1.45"/>
<path d="M303.9 244.3H306.9M305.4 242.8V245.8" stroke-width="1"/>
<circle cx="302.2" cy="247.2" r="1.45"/>
<circle cx="305.1" cy="249.3" r="1.45"/>
<path d="M294.8 249.32L296.2 251L294.8 252.68L293.4 251Z"/>
<circle cx="316.8" cy="250.2" r="1.45"/>
<path d="M320.1 250H323.1M321.6 248.5V251.5" stroke-width="1"/>
<circle cx="312.1" cy="253.2" r="1.45"/>
<circle cx="311.3" cy="255" r="1.45"/>
<circle cx="304.3" cy="259.3" r="1.45"/>
<circle cx="306.5" cy="262" r="1.45"/>
<circle cx="309.4" cy="263.9" r="1.45"/>
<circle cx="298" cy="263" r="1.45"/>
<path d="M300.2 263.4H303.2M301.7 261.9V264.9" stroke-width="1"/>
<circle cx="293" cy="265" r="1.45"/>
<circle cx="304.7" cy="267.8" r="1.45"/>
<circle cx="305.9" cy="266.2" r="1.45"/>
<circle cx="318.7" cy="266.6" r="1.45"/>
<circle cx="290" cy="269.2" r="1.45"/>
<circle cx="298.3" cy="269.1" r="1.45"/>
<circle cx="313.4" cy="269.4" r="1.45"/>
<path d="M307.6 271H310.6M309.1 269.5V272.5" stroke-width="1"/>
<circle cx="321.9" cy="270.7" r="1.45"/>
<circle cx="324.6" cy="272.6" r="1.45"/>
<path d="M288.7 273.1H291.3M290 271.8V274.4M289.19 272.29L290.81 273.91M290.81 272.29L289.19 273.91" stroke-width="0.75"/>
<path d="M300.3 270.8L302.15 274.2L298.45 274.2Z"/>
<circle cx="308.6" cy="275.8" r="1.45"/>
<circle cx="312.3" cy="276" r="1.45"/>
<path d="M315.5 273.02L316.9 274.7L315.5 276.38L314.1 274.7Z"/>
<path d="M317.7 275.8H320.7M319.2 274.3V277.3" stroke-width="1"/>
<path d="M303.3 274.8L305.15 278.2L301.45 278.2Z"/>
<circle cx="296.4" cy="279" r="1.45"/>
<path d="M293.8 276.3H296.8M295.3 274.8V277.8" stroke-width="1"/>
<path d="M291 278.92L292.4 280.6L291 282.28L289.6 280.6Z"/>
<path d="M290.3 281.02L291.7 282.7L290.3 284.38L288.9 282.7Z"/>
<path d="M289.7 282.82L291.1 284.5L289.7 286.18L288.3 284.5Z"/>
<circle cx="312.3" cy="278.3" r="1.45"/>
<path d="M311.8 279.3L313.65 282.7L309.95 282.7Z"/>
<rect x="302.6" y="280.8" width="2.8" height="2.8"/>
<path d="M299.6 280H302.6M301.1 278.5V281.5" stroke-width="1"/>
<path d="M329.4 264.1H332.4M330.9 262.6V265.6" stroke-width="1"/>
<circle cx="306" cy="272.5" r="1.45"/>
<circle cx="309.8" cy="278.6" r="1.45"/>
<circle cx="315" cy="271.8" r="1.45"/>
<path d="M305 279.5H308M306.5 278V281" stroke-width="1"/>
<path d="M347.3 228.82L348.7 230.5L347.3 232.18L345.9 230.5Z"/>
<path d="M334.6 230.92L336 232.6L334.6 234.28L333.2 232.6Z"/>
<path d="M386.3 229.42L387.7 231.1L386.3 232.78L384.9 231.1Z"/>
<path d="M341.6 236.92L343 238.6L341.6 240.28L340.2 238.6Z"/>
<path d="M358.6 236.32L360 238L358.6 239.68L357.2 238Z"/>
<path d="M352.7 238.82L354.1 240.5L352.7 242.18L351.3 240.5Z"/>
<path d="M383.2 244.6L386 247.4M386 244.6L383.2 247.4" stroke-width="0.9"/>
<path d="M384.6 244.32L386 246L384.6 247.68L383.2 246Z"/>
<path d="M343.3 253.9H345.9M344.6 252.6V255.2M343.79 253.09L345.41 254.71M345.41 253.09L343.79 254.71" stroke-width="0.75"/>
<path d="M350.5 251.82L351.9 253.5L350.5 255.18L349.1 253.5Z"/>
<path d="M360.5 252.22L361.9 253.9L360.5 255.58L359.1 253.9Z"/>
<path d="M369.3 254.6L372.1 257.4M372.1 254.6L369.3 257.4" stroke-width="0.9"/>
<path d="M367.2 258.5L370 261.3M370 258.5L367.2 261.3" stroke-width="0.9"/>
<path d="M355.5 258.3L358.3 261.1M358.3 258.3L355.5 261.1" stroke-width="0.9"/>
<path d="M388.4 259.92L389.8 261.6L388.4 263.28L387 261.6Z"/>
<path d="M366.9 262.92L368.3 264.6L366.9 266.28L365.5 264.6Z"/>
<path d="M329.4 264.1H332M330.7 262.8V265.4M329.89 263.29L331.51 264.91M331.51 263.29L329.89 264.91" stroke-width="0.75"/>
<path d="M379.3 268.62L380.7 270.3L379.3 271.98L377.9 270.3Z"/>
<path d="M379.3 271.42L380.7 273.1L379.3 274.78L377.9 273.1Z"/>
<circle cx="332.4" cy="273.7" r="1.45"/>
<path d="M332.4 272.02L333.8 273.7L332.4 275.38L331 273.7Z"/>
<circle cx="325.6" cy="273" r="1.45"/>
<circle cx="338.2" cy="278" r="1.45"/>
</g>
<g stroke="#5c5c5c" stroke-width="1.2" fill="none">
<rect x="232.4" y="170.9" width="170.6" height="115.35"/>
<path d="M232.4 286.25v2.2M260.83 286.25v2.2M289.27 286.25v2.2M317.7 286.25v2.2M346.13 286.25v2.2M374.57 286.25v2.2M403 286.25v2.2M232.4 170.9h-2.2M232.4 190.12h-2.2M232.4 209.35h-2.2M232.4 228.57h-2.2M232.4 247.8h-2.2M232.4 267.02h-2.2M232.4 286.25h-2.2" stroke-width="0.9"/>
</g>
<g font-family='"Liberation Serif", serif' font-size="6.8" fill="#222" stroke="#222" stroke-width="0.18">
<text x="226.08" y="296.1" textLength="12.65" lengthAdjust="spacingAndGlyphs" transform="rotate(0.04 226.08 296.1)">4800</text>
<text x="254.51" y="296.1" textLength="12.65" lengthAdjust="spacingAndGlyphs" transform="rotate(0.04 254.51 296.1)">5000</text>
<text x="282.94" y="296.1" textLength="12.65" lengthAdjust="spacingAndGlyphs" transform="rotate(0.04 282.94 296.1)">5200</text>
<text x="311.38" y="296.1" textLength="12.65" lengthAdjust="spacingAndGlyphs" transform="rotate(0.04 311.38 296.1)">5400</text>
<text x="339.81" y="296.1" textLength="12.65" lengthAdjust="spacingAndGlyphs" transform="rotate(0.04 339.81 296.1)">5600</text>
<text x="368.24" y="296.1" textLength="12.65" lengthAdjust="spacingAndGlyphs" transform="rotate(0.04 368.24 296.1)">5800</text>
<text x="396.68" y="296.1" textLength="12.65" lengthAdjust="spacingAndGlyphs" transform="rotate(0.04 396.68 296.1)">6000</text>
<text x="218.77" y="172.7" textLength="8.43" lengthAdjust="spacingAndGlyphs" transform="rotate(0.04 218.77 172.7)">-60</text>
<text x="218.77" y="191.92" textLength="8.43" lengthAdjust="spacingAndGlyphs" transform="rotate(0.04 218.77 191.92)">-50</text>
<text x="218.77" y="211.15" textLength="8.43" lengthAdjust="spacingAndGlyphs" transform="rotate(0.04 218.77 211.15)">-40</text>
<text x="218.77" y="230.37" textLength="8.43" lengthAdjust="spacingAndGlyphs" transform="rotate(0.04 218.77 230.37)">-30</text>
<text x="218.77" y="249.6" textLength="8.43" lengthAdjust="spacingAndGlyphs" transform="rotate(0.04 218.77 249.6)">-20</text>
<text x="218.77" y="268.82" textLength="8.43" lengthAdjust="spacingAndGlyphs" transform="rotate(0.04 218.77 268.82)">-10</text>
<text x="224.04" y="288.05" textLength="3.16" lengthAdjust="spacingAndGlyphs" transform="rotate(0.04 224.04 288.05)">0</text>
</g>
<text x="296" y="309.2" font-family='"Liberation Serif", serif' font-weight="bold" font-size="8.3" textLength="78.7" lengthAdjust="spacingAndGlyphs" fill="#111" transform="rotate(0.04 296 309.2)">Mean elevation (m a.s.l)</text>
<text transform="translate(216.2 266.5) rotate(-90)" font-family='"Liberation Serif", serif' font-weight="bold" font-size="7.5" textLength="76" lengthAdjust="spacingAndGlyphs" fill="#111">Glacier area change(%)</text>
<text x="236.6" y="165.6" font-family='"Liberation Sans", sans-serif' font-weight="bold" font-size="11" fill="#000" stroke="#000" stroke-width="0.2" transform="rotate(0.04 236.6 165.6)">e</text>
<g stroke="#b6b6b6" stroke-width="0.8" stroke-dasharray="1.2 1.2" fill="none">
<path d="M474.16 170.5V287.5"/>
<path d="M513.83 170.5V287.5"/>
<path d="M553.49 170.5V287.5"/>
<path d="M434.5 190H593.15"/>
<path d="M434.5 209.5H593.15"/>
<path d="M434.5 229H593.15"/>
<path d="M434.5 248.5H593.15"/>
<path d="M434.5 268H593.15"/>
</g>
<rect x="532" y="176" width="41.5" height="21" fill="#fff"/>
<g font-family='"Liberation Serif", serif' font-weight="bold" font-style="italic" font-size="8.4" fill="#1c1c1c" stroke="#1c1c1c" stroke-width="0.18">
<text x="534" y="184.5" textLength="35.7" lengthAdjust="spacingAndGlyphs" transform="rotate(0.04 534 184.5)">R² = 0.2799</text>
<text x="540.3" y="195.2" textLength="31.7" lengthAdjust="spacingAndGlyphs" transform="rotate(0.04 540.3 195.2)">r = -0.5290</text>
</g>
<path d="M437.9 240.6L535 287.2" stroke="#111" stroke-width="1.15" stroke-dasharray="3.8 2.5" fill="none"/>
<g fill="none" stroke="#111" stroke-width="0.95">
<path d="M444.3 184.22L445.7 185.9L444.3 187.58L442.9 185.9Z"/>
<circle cx="455.6" cy="187.2" r="1.45"/>
<path d="M463.5 186.72L464.9 188.4L463.5 190.08L462.1 188.4Z"/>
<path d="M476.7 191.82L478.1 193.5L476.7 195.18L475.3 193.5Z"/>
<path d="M436.7 197.6H439.3M438 196.3V198.9M437.19 196.79L438.81 198.41M438.81 196.79L437.19 198.41" stroke-width="0.75"/>
<circle cx="463.7" cy="202" r="1.45"/>
<path d="M447 204.9L449.8 207.7M449.8 204.9L447 207.7" stroke-width="0.9"/>
<path d="M451.4 207.82L452.8 209.5L451.4 211.18L450 209.5Z"/>
<path d="M453.9 211H456.5M455.2 209.7V212.3M454.39 210.19L456.01 211.81M456.01 210.19L454.39 211.81" stroke-width="0.75"/>
<circle cx="449" cy="217.4" r="1.45"/>
<path d="M462.2 219.52L463.6 221.2L462.2 222.88L460.8 221.2Z"/>
<path d="M454.7 221.8H457.3M456 220.5V223.1M455.19 220.99L456.81 222.61M456.81 220.99L455.19 222.61" stroke-width="0.75"/>
<path d="M441.5 222.4L444.3 225.2M444.3 222.4L441.5 225.2" stroke-width="0.9"/>
<path d="M447.7 225.8H450.3M449 224.5V227.1M448.19 224.99L449.81 226.61M449.81 224.99L448.19 226.61" stroke-width="0.75"/>
<circle cx="451.1" cy="231" r="1.45"/>
<path d="M457.2 229.02L458.6 230.7L457.2 232.38L455.8 230.7Z"/>
<circle cx="445.6" cy="232.1" r="1.45"/>
<path d="M443.2 231.72L444.6 233.4L443.2 235.08L441.8 233.4Z"/>
<circle cx="468.5" cy="233.2" r="1.45"/>
<path d="M446.7 235.6H449.3M448 234.3V236.9M447.19 234.79L448.81 236.41M448.81 234.79L447.19 236.41" stroke-width="0.75"/>
<circle cx="458.6" cy="236" r="1.45"/>
<path d="M450.4 237.52L451.8 239.2L450.4 240.88L449 239.2Z"/>
<path d="M444.4 239.22L445.8 240.9L444.4 242.58L443 240.9Z"/>
<circle cx="460.2" cy="241.4" r="1.45"/>
<circle cx="453.3" cy="241.7" r="1.45"/>
<circle cx="456.3" cy="242.2" r="1.45"/>
<circle cx="449" cy="242.2" r="1.45"/>
<circle cx="442.1" cy="244.1" r="1.45"/>
<circle cx="468.2" cy="244" r="1.45"/>
<path d="M455 244.9H457.6M456.3 243.6V246.2M455.49 244.09L457.11 245.71M457.11 244.09L455.49 245.71" stroke-width="0.75"/>
<circle cx="447.4" cy="247" r="1.45"/>
<circle cx="449.6" cy="249.7" r="1.45"/>
<circle cx="453.3" cy="249.1" r="1.45"/>
<circle cx="456.5" cy="250.2" r="1.45"/>
<path d="M460.9 246.1L463.7 248.9M463.7 246.1L460.9 248.9" stroke-width="0.9"/>
<circle cx="443.7" cy="251.3" r="1.45"/>
<circle cx="446.4" cy="253.9" r="1.45"/>
<circle cx="452.7" cy="253.9" r="1.45"/>
<circle cx="479.9" cy="250.9" r="1.45"/>
<path d="M474 252.72L475.4 254.4L474 256.08L472.6 254.4Z"/>
<circle cx="446" cy="245.5" r="1.45"/>
<circle cx="451" cy="246.5" r="1.45"/>
<path d="M448.3 246.52L449.7 248.2L448.3 249.88L446.9 248.2Z"/>
<circle cx="459" cy="251" r="1.45"/>
<path d="M459 252.5H462M460.5 251V254" stroke-width="1"/>
<circle cx="450.1" cy="258.3" r="1.45"/>
<circle cx="457" cy="258.8" r="1.45"/>
<path d="M448.6 260.9H451.6M450.1 259.4V262.4" stroke-width="1"/>
<circle cx="445.8" cy="263.6" r="1.45"/>
<circle cx="447.7" cy="262.3" r="1.45"/>
<path d="M450.6 263.52L452 265.2L450.6 266.88L449.2 265.2Z"/>
<path d="M443.2 265.62L444.6 267.3L443.2 268.98L441.8 267.3Z"/>
<path d="M455.9 264.6H458.5M457.2 263.3V265.9M456.39 263.79L458.01 265.41M458.01 263.79L456.39 265.41" stroke-width="0.75"/>
<circle cx="462.9" cy="262.5" r="1.45"/>
<circle cx="463.9" cy="260.9" r="1.45"/>
<path d="M460.7 259.22L462.1 260.9L460.7 262.58L459.3 260.9Z"/>
<path d="M469.7 259.2L472.5 262M472.5 259.2L469.7 262" stroke-width="0.9"/>
<circle cx="469.6" cy="265.7" r="1.45"/>
<circle cx="467.1" cy="267.8" r="1.45"/>
<circle cx="470.3" cy="268.4" r="1.45"/>
<circle cx="461.8" cy="270.5" r="1.45"/>
<circle cx="464.4" cy="270.5" r="1.45"/>
<circle cx="468.2" cy="271.6" r="1.45"/>
<rect x="471" y="268.6" width="2.8" height="2.8"/>
<circle cx="455.9" cy="271.6" r="1.45"/>
<circle cx="456.7" cy="272.9" r="1.45"/>
<circle cx="468.2" cy="274.2" r="1.45"/>
<circle cx="471.9" cy="274.2" r="1.45"/>
<circle cx="472.2" cy="276.3" r="1.45"/>
<path d="M459.8 274.2H462.8M461.3 272.7V275.7" stroke-width="1"/>
<path d="M457.9 277.9H460.9M459.4 276.4V279.4" stroke-width="1"/>
<path d="M451.9 275.22L453.3 276.9L451.9 278.58L450.5 276.9Z"/>
<circle cx="477.2" cy="264.1" r="1.45"/>
<circle cx="479.9" cy="262.7" r="1.45"/>
<circle cx="480.9" cy="268.9" r="1.45"/>
<circle cx="481.1" cy="274.7" r="1.45"/>
<circle cx="453.5" cy="256.5" r="1.45"/>
<circle cx="460.5" cy="256" r="1.45"/>
<circle cx="466" cy="257.5" r="1.45"/>
<path d="M464.5 253.32L465.9 255L464.5 256.68L463.1 255Z"/>
<circle cx="470.5" cy="257" r="1.45"/>
<path d="M496.7 237.32L498.1 239L496.7 240.68L495.3 239Z"/>
<circle cx="480.3" cy="261.4" r="1.45"/>
<circle cx="500.5" cy="265.2" r="1.45"/>
<path d="M484.1 269.4H487.1M485.6 267.9V270.9" stroke-width="1"/>
<path d="M522.4 264.6L524.25 268L520.55 268Z"/>
<circle cx="484.6" cy="273.7" r="1.45"/>
<circle cx="488.8" cy="273.7" r="1.45"/>
<path d="M489.5 274H492.5M491 272.5V275.5" stroke-width="1"/>
<circle cx="485.2" cy="277.3" r="1.45"/>
<path d="M516.7 272L518.55 275.4L514.85 275.4Z"/>
<path d="M485.6 280.1H488.6M487.1 278.6V281.6" stroke-width="1"/>
<path d="M491 278.22L492.4 279.9L491 281.58L489.6 279.9Z"/>
<circle cx="499.5" cy="281.1" r="1.45"/>
<path d="M497.3 284.1H500.3M498.8 282.6V285.6" stroke-width="1"/>
<circle cx="504.8" cy="279" r="1.45"/>
<circle cx="511.2" cy="277.7" r="1.45"/>
<rect x="517.6" y="281.6" width="2.8" height="2.8"/>
<rect x="522.1" y="277.4" width="2.8" height="2.8"/>
<path d="M523.5 276.3L525.35 279.7L521.65 279.7Z"/>
<rect x="530" y="282.3" width="2.8" height="2.8"/>
<path d="M536.3 271.6L538.15 275L534.45 275Z"/>
<path d="M544.1 275.9L545.95 279.3L542.25 279.3Z"/>
<circle cx="549.9" cy="276.9" r="1.45"/>
<path d="M541.4 280.5L543.25 283.9L539.55 283.9Z"/>
<path d="M570.7 283.1L572.55 286.5L568.85 286.5Z"/>
</g>
<g stroke="#5c5c5c" stroke-width="1.2" fill="none">
<rect x="434.5" y="170.5" width="158.65" height="117"/>
<path d="M434.5 287.5v2.2M474.16 287.5v2.2M513.83 287.5v2.2M553.49 287.5v2.2M593.15 287.5v2.2M434.5 170.5h-2.2M434.5 190h-2.2M434.5 209.5h-2.2M434.5 229h-2.2M434.5 248.5h-2.2M434.5 268h-2.2M434.5 287.5h-2.2" stroke-width="0.9"/>
</g>
<g font-family='"Liberation Serif", serif' font-size="6.7" fill="#222" stroke="#222" stroke-width="0.18">
<text x="433.03" y="297.6" textLength="2.95" lengthAdjust="spacingAndGlyphs" transform="rotate(0.04 433.03 297.6)">0</text>
<text x="469.74" y="297.6" textLength="8.84" lengthAdjust="spacingAndGlyphs" transform="rotate(0.04 469.74 297.6)">500</text>
<text x="507.93" y="297.6" textLength="11.79" lengthAdjust="spacingAndGlyphs" transform="rotate(0.04 507.93 297.6)">1000</text>
<text x="547.59" y="297.6" textLength="11.79" lengthAdjust="spacingAndGlyphs" transform="rotate(0.04 547.59 297.6)">1500</text>
<text x="587.25" y="297.6" textLength="11.79" lengthAdjust="spacingAndGlyphs" transform="rotate(0.04 587.25 297.6)">2000</text>
<text x="421.74" y="172.26" textLength="7.86" lengthAdjust="spacingAndGlyphs" transform="rotate(0.04 421.74 172.26)">-60</text>
<text x="421.74" y="191.76" textLength="7.86" lengthAdjust="spacingAndGlyphs" transform="rotate(0.04 421.74 191.76)">-50</text>
<text x="421.74" y="211.26" textLength="7.86" lengthAdjust="spacingAndGlyphs" transform="rotate(0.04 421.74 211.26)">-40</text>
<text x="421.74" y="230.76" textLength="7.86" lengthAdjust="spacingAndGlyphs" transform="rotate(0.04 421.74 230.76)">-30</text>
<text x="421.74" y="250.26" textLength="7.86" lengthAdjust="spacingAndGlyphs" transform="rotate(0.04 421.74 250.26)">-20</text>
<text x="421.74" y="269.76" textLength="7.86" lengthAdjust="spacingAndGlyphs" transform="rotate(0.04 421.74 269.76)">-10</text>
<text x="426.65" y="289.26" textLength="2.95" lengthAdjust="spacingAndGlyphs" transform="rotate(0.04 426.65 289.26)">0</text>
</g>
<text x="493" y="309.2" font-family='"Liberation Serif", serif' font-weight="bold" font-size="8.3" textLength="56.7" lengthAdjust="spacingAndGlyphs" fill="#111" transform="rotate(0.04 493 309.2)">Elevation range (m)</text>
<text transform="translate(418.8 272) rotate(-90)" font-family='"Liberation Serif", serif' font-weight="bold" font-size="7.6" textLength="82.4" lengthAdjust="spacingAndGlyphs" fill="#111">Glacier area change (%)</text>
<text x="436.3" y="165.5" font-family='"Liberation Sans", sans-serif' font-weight="bold" font-size="10.2" fill="#000" stroke="#000" stroke-width="0.2" transform="rotate(0.04 436.3 165.5)">f</text>
<path d="M105.6 212.66L137.28 221.44L153.76 248.4L145.2 282.1L105.6 308.69L71.94 277.05L69.2 248.4L85.8 231.55Z" fill="#b1b1b1" stroke="none"/>
<path d="M105.6 248.4L105.6 176.91M103.5 236.49L107.7 236.49M103.5 224.57L107.7 224.57M103.5 212.66L107.7 212.66M103.5 200.74L107.7 200.74M103.5 188.83L107.7 188.83M103.5 176.91L107.7 176.91M105.6 248.4L165 197.85M114.14 238.38L116.86 241.57M124.04 229.95L126.76 233.15M133.94 221.53L136.66 224.72M143.84 213.1L146.56 216.3M153.74 204.67L156.46 207.87M163.64 196.25L166.36 199.45M105.6 248.4L189.6 248.4M119.6 246.3L119.6 250.5M133.6 246.3L133.6 250.5M147.6 246.3L147.6 250.5M161.6 246.3L161.6 250.5M175.6 246.3L175.6 250.5M189.6 246.3L189.6 250.5M105.6 248.4L165 298.95M116.86 255.23L114.14 258.42M126.76 263.65L124.04 266.85M136.66 272.08L133.94 275.27M146.56 280.5L143.84 283.7M156.46 288.93L153.74 292.13M166.36 297.35L163.64 300.55M105.6 248.4L105.6 319.89M107.7 260.31L103.5 260.31M107.7 272.23L103.5 272.23M107.7 284.14L103.5 284.14M107.7 296.06L103.5 296.06M107.7 307.98L103.5 307.98M107.7 319.89L103.5 319.89M105.6 248.4L46.2 298.95M97.06 258.42L94.34 255.23M87.16 266.85L84.44 263.65M77.26 275.27L74.54 272.08M67.36 283.7L64.64 280.5M57.46 292.13L54.74 288.93M47.56 300.55L44.84 297.35M105.6 248.4L21.6 248.4M91.6 250.5L91.6 246.3M77.6 250.5L77.6 246.3M63.6 250.5L63.6 246.3M49.6 250.5L49.6 246.3M35.6 250.5L35.6 246.3M21.6 250.5L21.6 246.3M105.6 248.4L46.2 197.85M94.34 241.57L97.06 238.38M84.44 233.15L87.16 229.95M74.54 224.72L77.26 221.53M64.64 216.3L67.36 213.1M54.74 207.87L57.46 204.67M44.84 199.45L47.56 196.25" stroke="#444" stroke-width="0.65" fill="none"/>
<path d="M105.6 212.66L137.28 221.44L153.76 248.4L145.2 282.1L105.6 308.69L71.94 277.05L69.2 248.4L85.8 231.55Z" fill="none" stroke="#111" stroke-width="1" stroke-dasharray="3 1.8"/>
<g font-family='"Liberation Serif", serif' font-weight="bold" font-size="7.2" fill="#111">
<text x="102.6" y="172.3" textLength="5.9" lengthAdjust="spacingAndGlyphs" transform="rotate(0.04 102.6 172.3)">N</text>
<text x="81.9" y="172.2" textLength="13.9" lengthAdjust="spacingAndGlyphs" transform="rotate(0.04 81.9 172.2)">( % )</text>
<text x="167.4" y="198.6" textLength="11" lengthAdjust="spacingAndGlyphs" transform="rotate(0.04 167.4 198.6)">NE</text>
<text x="192.1" y="250.4" textLength="4.7" lengthAdjust="spacingAndGlyphs" transform="rotate(0.04 192.1 250.4)">E</text>
<text x="167.3" y="302.5" textLength="9.7" lengthAdjust="spacingAndGlyphs" transform="rotate(0.04 167.3 302.5)">SE</text>
<text x="103.5" y="328.1" textLength="4.5" lengthAdjust="spacingAndGlyphs" transform="rotate(0.04 103.5 328.1)">S</text>
<text x="31.6" y="302.5" textLength="13.6" lengthAdjust="spacingAndGlyphs" transform="rotate(0.04 31.6 302.5)">SW</text>
<text x="11.6" y="250.4" textLength="8.8" lengthAdjust="spacingAndGlyphs" transform="rotate(0.04 11.6 250.4)">W</text>
<text x="29.8" y="198.4" textLength="14.5" lengthAdjust="spacingAndGlyphs" transform="rotate(0.04 29.8 198.4)">NW</text>
<text x="94.47" y="251.6" font-size="7.4" textLength="3.63" lengthAdjust="spacingAndGlyphs" transform="rotate(0.04 94.47 251.6)">0</text>
<text x="92.06" y="239.69" font-size="7.4" textLength="6.04" lengthAdjust="spacingAndGlyphs" transform="rotate(0.04 92.06 239.69)">-5</text>
<text x="88.43" y="227.77" font-size="7.4" textLength="9.67" lengthAdjust="spacingAndGlyphs" transform="rotate(0.04 88.43 227.77)">-10</text>
<text x="88.43" y="215.85" font-size="7.4" textLength="9.67" lengthAdjust="spacingAndGlyphs" transform="rotate(0.04 88.43 215.85)">-15</text>
<text x="88.43" y="203.94" font-size="7.4" textLength="9.67" lengthAdjust="spacingAndGlyphs" transform="rotate(0.04 88.43 203.94)">-20</text>
<text x="88.43" y="192.03" font-size="7.4" textLength="9.67" lengthAdjust="spacingAndGlyphs" transform="rotate(0.04 88.43 192.03)">-25</text>
<text x="88.43" y="180.11" font-size="7.4" textLength="9.67" lengthAdjust="spacingAndGlyphs" transform="rotate(0.04 88.43 180.11)">-30</text>
</g>
<text x="24.3" y="165.5" font-family='"Liberation Sans", sans-serif' font-weight="bold" font-size="11" fill="#000" stroke="#000" stroke-width="0.2" transform="rotate(0.04 24.3 165.5)">d</text>
</svg></body></html>
